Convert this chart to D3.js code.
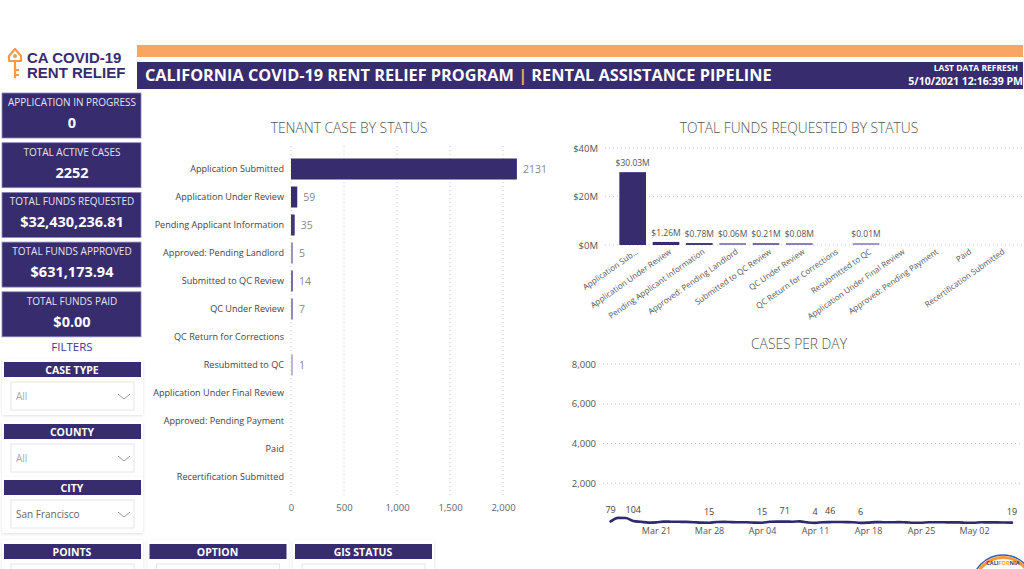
<!DOCTYPE html>
<html>
<head>
<meta charset="utf-8">
<script src="https://cdn.jsdelivr.net/npm/d3@7"></script>
<style>
  html, body { margin: 0; padding: 0; background: #fff; }
  svg { display: block; font-family: "Open Sans", "Noto Sans", sans-serif; }
</style>
</head>
<body>
<svg id="dash" width="1024" height="569"></svg>
<script>
// ---- data ----
const statuses = [
  "Application Submitted", "Application Under Review", "Pending Applicant Information",
  "Approved: Pending Landlord", "Submitted to QC Review", "QC Under Review",
  "QC Return for Corrections", "Resubmitted to QC", "Application Under Final Review",
  "Approved: Pending Payment", "Paid", "Recertification Submitted"
];
const caseCounts = [2131, 59, 35, 5, 14, 7, null, 1, null, null, null, null];
const fundsRequested = [30.03, 1.26, 0.78, 0.06, 0.21, 0.08, null, 0.01, null, null, null, null];
const fundsAxisLabels = ["Application Sub...", "Application Under Review", "Pending Applicant Information",
  "Approved: Pending Landlord", "Submitted to QC Review", "QC Under Review",
  "QC Return for Corrections", "Resubmitted to QC", "Application Under Final Review",
  "Approved: Pending Payment", "Paid", "Recertification Submitted"];

const caseTicks = [0, 500, 1000, 1500, 2000];
const fundsTicks = [0, 20, 40];
const dailyTicks = [2000, 4000, 6000, 8000];

const dayStart = "2021-03-15";
const dailyCases = [
  79, 260, 250, 104, 60, 20, 30, 70, 65, 60, 55, 40, 20, 15,
  50, 55, 45, 40, 35, 20, 15, 60, 70, 71, 65, 80, 30, 4,
  40, 46, 50, 45, 40, 6, 20, 45, 40, 35, 45, 30, 10, 15,
  40, 35, 35, 30, 30, 10, 10, 35, 30, 30, 25, 19
];
const labeledDays = ["2021-03-15", "2021-03-18", "2021-03-28", "2021-04-04", "2021-04-07",
  "2021-04-11", "2021-04-13", "2021-04-17", "2021-05-07"];

const kpis = [
  { label: "APPLICATION IN PROGRESS", value: "0" },
  { label: "TOTAL ACTIVE CASES", value: "2252" },
  { label: "TOTAL FUNDS REQUESTED", value: "$32,430,236.81" },
  { label: "TOTAL FUNDS APPROVED", value: "$631,173.94" },
  { label: "TOTAL FUNDS PAID", value: "$0.00" }
];
const filters = [
  { label: "CASE TYPE", value: "All" },
  { label: "COUNTY", value: "All" },
  { label: "CITY", value: "San Francisco" }
];
const bottomSlicers = ["POINTS", "OPTION", "GIS STATUS"];

// ---- style ----
const PURPLE = "#372c6e";
const ORANGE = "#f9a662";
const GRID = "#c8c8c8";
const svg = d3.select("#dash");

// ---- header ----
svg.append("rect").attr("x", 137).attr("y", 45).attr("width", 886).attr("height", 12).attr("fill", ORANGE);
svg.append("rect").attr("x", 137).attr("y", 62).attr("width", 886).attr("height", 27).attr("fill", PURPLE);

const title = svg.append("text").attr("x", 145).attr("y", 81)
  .attr("fill", "#fff").style("font-size", "16.3px").style("font-weight", "bold");
title.append("tspan").text("CALIFORNIA COVID-19 RENT RELIEF PROGRAM ");
title.append("tspan").attr("fill", ORANGE).text("|");
title.append("tspan").text(" RENTAL ASSISTANCE PIPELINE");

svg.append("text").attr("x", 1018).attr("y", 71).attr("text-anchor", "end")
  .attr("fill", "#fff").style("font-size", "8.5px").style("font-weight", "bold").text("LAST DATA REFRESH");
svg.append("text").attr("x", 1023).attr("y", 85).attr("text-anchor", "end")
  .attr("fill", "#fff").style("font-size", "10.5px").style("font-weight", "bold").text("5/10/2021 12:16:39 PM");

// logo
const logo = svg.append("g");
logo.append("path")
  .attr("d", "M9,56 L15,49 L21,56 L21,61 L9,61 Z M15,61 L15,78 M15,70 L19,70 M15,75 L19,75")
  .attr("fill", "none").attr("stroke", "#f59a4a").attr("stroke-width", 2.2).attr("stroke-linejoin", "round");
logo.append("circle").attr("cx", 15).attr("cy", 56).attr("r", 2).attr("fill", "#f59a4a");
logo.append("text").attr("x", 27).attr("y", 63).attr("fill", PURPLE)
  .style("font-family", "Liberation Sans, Arial, sans-serif")
  .style("font-size", "15px").style("font-weight", "bold").text("CA COVID-19");
logo.append("text").attr("x", 27).attr("y", 78).attr("fill", PURPLE)
  .style("font-family", "Liberation Sans, Arial, sans-serif")
  .style("font-size", "15px").style("font-weight", "bold").text("RENT RELIEF");

// ---- KPI cards ----
const kpiG = svg.selectAll(".kpi").data(kpis).enter().append("g")
  .attr("class", "kpi")
  .attr("transform", (d, i) => `translate(2, ${93 + i * 49.7})`);
kpiG.append("rect").attr("width", 139).attr("height", 45)
  .attr("fill", PURPLE).attr("stroke", "#8d86bd").attr("stroke-width", 0.8);
kpiG.append("text").attr("x", 70).attr("y", 13).attr("text-anchor", "middle")
  .attr("fill", "#e4e2f0").style("font-size", "10px").text(d => d.label);
kpiG.append("text").attr("x", 70).attr("y", 35).attr("text-anchor", "middle")
  .attr("fill", "#fff").style("font-size", "14.5px").style("font-weight", "bold").text(d => d.value);

svg.append("text").attr("x", 72).attr("y", 351).attr("text-anchor", "middle")
  .attr("fill", "#3d3590").style("font-size", "11.5px").text("FILTERS");

// ---- filter slicers ----
const defs = svg.append("defs");
const sh = defs.append("filter").attr("id", "shadow").attr("x", "-10%").attr("y", "-10%")
  .attr("width", "120%").attr("height", "130%");
sh.append("feDropShadow").attr("dx", 0).attr("dy", 1).attr("stdDeviation", 1.5)
  .attr("flood-color", "#000").attr("flood-opacity", 0.12);

const chevron = (g, x, y) => g.append("path")
  .attr("d", `M${x},${y} L${x + 6},${y + 5} L${x + 12},${y}`)
  .attr("fill", "none").attr("stroke", "#999").attr("stroke-width", 1);

const fG = svg.selectAll(".filter").data(filters).enter().append("g")
  .attr("class", "filter")
  .attr("transform", (d, i) => `translate(2, ${[359, 421, 477][i]})`);
fG.append("rect").attr("width", 141).attr("height", 56).attr("fill", "#fff").attr("filter", "url(#shadow)");
fG.append("rect").attr("x", 2).attr("y", 3).attr("width", 137).attr("height", 15).attr("fill", PURPLE);
fG.append("text").attr("x", 70).attr("y", 14.5).attr("text-anchor", "middle")
  .attr("fill", "#fff").style("font-size", "10.5px").style("font-weight", "bold").text(d => d.label);
fG.append("rect").attr("x", 9).attr("y", 23).attr("width", 123).attr("height", 28)
  .attr("fill", "#fff").attr("stroke", "#e6e6e6");
fG.append("text").attr("x", 14).attr("y", 41).attr("fill", d => d.value === "All" ? "#aaa" : "#666")
  .style("font-size", "10px").text(d => d.value);
fG.each(function () { chevron(d3.select(this), 116, 35); });

const bG = svg.selectAll(".bslicer").data(bottomSlicers).enter().append("g")
  .attr("class", "bslicer")
  .attr("transform", (d, i) => `translate(${2 + i * 145.5}, 540)`);
bG.append("rect").attr("width", 141).attr("height", 35).attr("fill", "#fff").attr("filter", "url(#shadow)");
bG.append("rect").attr("x", 2).attr("y", 4).attr("width", 137).attr("height", 15).attr("fill", PURPLE);
bG.append("text").attr("x", 70).attr("y", 15.5).attr("text-anchor", "middle")
  .attr("fill", "#fff").style("font-size", "10.5px").style("font-weight", "bold").text(d => d);
bG.append("rect").attr("x", 9).attr("y", 24).attr("width", 123).attr("height", 20)
  .attr("fill", "#fff").attr("stroke", "#e6e6e6");

// ---- tenant case by status ----
const chartTitle = (x, y, t) => svg.append("text").attr("x", x).attr("y", y).attr("text-anchor", "middle")
  .attr("fill", "#555").style("font-size", "13.8px").style("font-weight", 300).text(t);

chartTitle(349, 133, "TENANT CASE BY STATUS");

const caseData = statuses.map((s, i) => ({ status: s, value: caseCounts[i] }));
const xCase = d3.scaleLinear().domain([0, 2500]).range([291, 556]);
const yCase = d3.scaleBand().domain(statuses).range([155, 491]).paddingInner(0.25).paddingOuter(0.125);
const caseColor = d3.scaleSqrt().domain([0, 40]).range(["#d4d0ec", PURPLE]).clamp(true);

const cg = svg.append("g");
cg.selectAll(".vgrid").data(caseTicks).enter().append("line")
  .attr("x1", d => xCase(d)).attr("x2", d => xCase(d)).attr("y1", 146).attr("y2", 495)
  .attr("stroke", GRID).attr("stroke-dasharray", "1,3");

const caseAxis = d3.axisBottom(xCase).tickValues(caseTicks).tickFormat(d3.format(",")).tickSize(0).tickPadding(0);
cg.append("g").attr("transform", "translate(0,504)").call(caseAxis)
  .call(g => g.select(".domain").remove())
  .selectAll("text").attr("fill", "#666").style("font-size", "9.5px").style("font-family", "Open Sans, sans-serif");

cg.selectAll(".clabel").data(caseData).enter().append("text")
  .attr("x", 284).attr("y", d => yCase(d.status) + yCase.bandwidth() / 2).attr("dy", "0.35em")
  .attr("text-anchor", "end").attr("fill", "#444").style("font-size", "9.1px").text(d => d.status);

const caseBars = caseData.filter(d => d.value != null);
cg.selectAll(".cbar").data(caseBars).enter().append("rect")
  .attr("x", xCase(0)).attr("y", d => yCase(d.status))
  .attr("width", d => Math.max(2, xCase(d.value) - xCase(0))).attr("height", yCase.bandwidth())
  .attr("fill", d => caseColor(d.value));
cg.selectAll(".cval").data(caseBars).enter().append("text")
  .attr("x", d => Math.max(xCase(0) + 2, xCase(d.value)) + 6)
  .attr("y", d => yCase(d.status) + yCase.bandwidth() / 2).attr("dy", "0.35em")
  .attr("fill", "#888").style("font-size", "10.5px").text(d => d.value);

// ---- total funds requested by status ----
chartTitle(799, 133, "TOTAL FUNDS REQUESTED BY STATUS");

const fundData = statuses.map((s, i) => ({ status: s, value: fundsRequested[i], label: fundsAxisLabels[i] }));
const xFund = d3.scaleBand().domain(statuses).range([616, 1016]).paddingInner(0.2).paddingOuter(0.1);
const yFund = d3.scaleLinear().domain([0, 40]).range([245, 148]);
const fundColor = d3.scaleSqrt().domain([0, 1]).range(["#a9a3d6", PURPLE]).clamp(true);

const fg = svg.append("g");
fg.selectAll(".hgrid").data(fundsTicks).enter().append("line")
  .attr("x1", 605).attr("x2", 1022).attr("y1", d => yFund(d)).attr("y2", d => yFund(d))
  .attr("stroke", GRID).attr("stroke-dasharray", "1,3");
fg.append("g").attr("transform", "translate(598,0)")
  .call(d3.axisLeft(yFund).tickValues(fundsTicks).tickFormat(d => `$${d}M`).tickSize(0).tickPadding(0))
  .call(g => g.select(".domain").remove())
  .selectAll("text").attr("fill", "#555").style("font-size", "9.5px").style("font-family", "Open Sans, sans-serif");

const fundBars = fundData.filter(d => d.value != null);
fg.selectAll(".fbar").data(fundBars).enter().append("rect")
  .attr("x", d => xFund(d.status)).attr("width", xFund.bandwidth())
  .attr("y", d => Math.min(yFund(d.value), yFund(0) - 2))
  .attr("height", d => Math.max(2, yFund(0) - yFund(d.value)))
  .attr("fill", d => fundColor(d.value));
fg.selectAll(".fval").data(fundBars).enter().append("text")
  .attr("x", d => xFund(d.status) + xFund.bandwidth() / 2)
  .attr("y", d => Math.min(yFund(d.value), yFund(0) - 2) - 6)
  .attr("text-anchor", "middle").attr("fill", "#555").style("font-size", "8.5px")
  .text(d => `$${d.value.toFixed(2)}M`);
fg.selectAll(".flabel").data(fundData).enter().append("text")
  .attr("transform", d => `translate(${xFund(d.status) + xFund.bandwidth() / 2 + 6},253) rotate(-35)`)
  .attr("text-anchor", "end").attr("fill", "#555").style("font-size", "8.1px").text(d => d.label);

// ---- cases per day ----
chartTitle(799, 349, "CASES PER DAY");

const parseDay = d3.utcParse("%Y-%m-%d");
const t0 = parseDay(dayStart);
const daily = dailyCases.map((v, i) => ({ date: d3.utcDay.offset(t0, i), value: v }));
const xDay = d3.scaleUtc().domain([t0, d3.utcDay.offset(t0, dailyCases.length - 1)]).range([610.6, 1011.9]);
const yDay = d3.scaleLinear().domain([0, 8000]).range([523, 364]);

const lg = svg.append("g");
lg.selectAll(".hgrid").data(dailyTicks).enter().append("line")
  .attr("x1", 603).attr("x2", 1020).attr("y1", d => yDay(d)).attr("y2", d => yDay(d))
  .attr("stroke", GRID).attr("stroke-dasharray", "1,3");
lg.append("g").attr("transform", "translate(596,0)")
  .call(d3.axisLeft(yDay).tickValues(dailyTicks).tickFormat(d3.format(",")).tickSize(0).tickPadding(0))
  .call(g => g.select(".domain").remove())
  .selectAll("text").attr("fill", "#555").style("font-size", "9.5px").style("font-family", "Open Sans, sans-serif");
lg.append("g").attr("transform", "translate(0,528)")
  .call(d3.axisBottom(xDay).ticks(d3.utcSunday.every(1)).tickFormat(d3.utcFormat("%b %d")).tickSize(0).tickPadding(0))
  .call(g => g.select(".domain").remove())
  .selectAll("text").attr("fill", "#555").style("font-size", "9px").style("font-family", "Open Sans, sans-serif");

lg.append("path").datum(daily)
  .attr("d", d3.line().x(d => xDay(d.date)).y(d => yDay(d.value)).curve(d3.curveMonotoneX))
  .attr("fill", "none").attr("stroke", "#2e2a6e").attr("stroke-width", 2.6).attr("stroke-linecap", "round");

const labelSet = new Set(labeledDays);
lg.selectAll(".dlab").data(daily.filter(d => labelSet.has(d3.utcFormat("%Y-%m-%d")(d.date)))).enter().append("text")
  .attr("x", d => xDay(d.date)).attr("y", d => yDay(d.value) - 8)
  .attr("text-anchor", "middle").attr("fill", "#444").style("font-size", "9px").text(d => d.value);

// CA seal, bottom-right corner
const seal = svg.append("g").attr("transform", "translate(1003,586)");
seal.append("circle").attr("r", 31).attr("fill", "#fff").attr("stroke", "#3a5fa8").attr("stroke-width", 1.5);
seal.append("circle").attr("r", 28.5).attr("fill", "none").attr("stroke", "#f59a3a").attr("stroke-width", 3);
const sealText = seal.append("text").attr("y", -21).attr("text-anchor", "middle")
  .style("font-size", "5.5px").style("font-weight", "bold").attr("fill", "#2c3e7a");
sealText.append("tspan").text("CALI");
sealText.append("tspan").attr("fill", "#f59a3a").text("FOR");
sealText.append("tspan").text("NIA");
</script>
</body>
</html>
